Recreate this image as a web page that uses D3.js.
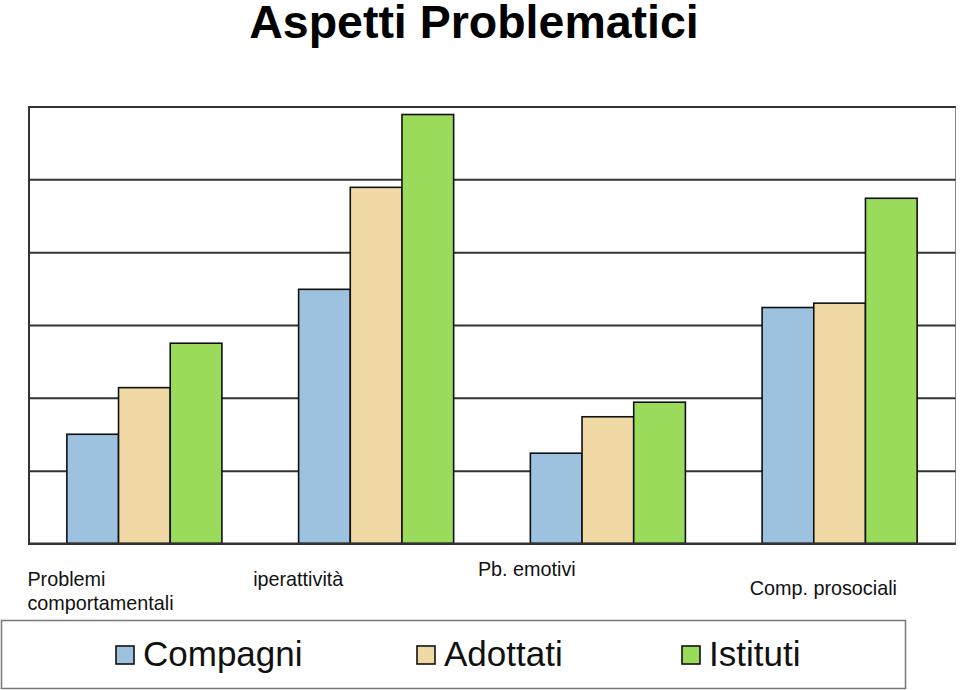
<!DOCTYPE html>
<html>
<head>
<meta charset="utf-8">
<script src="https://cdn.jsdelivr.net/npm/d3@7"></script>
<style>
  body { margin: 0; background: #fff; }
  text { font-family: "Liberation Sans", Arial, sans-serif; }
</style>
</head>
<body>
<div id="chart"></div>
<script>
// Data
const categories = [["Problemi", "comportamentali"], ["iperattività"], ["Pb. emotivi"], ["Comp. prosociali"]];
const seriesNames = ["Compagni", "Adottati", "Istituti"];
const compagni = [1.50, 3.49, 1.24, 3.24];
const adottati = [2.14, 4.89, 1.74, 3.30];
const istituti = [2.75, 5.89, 1.94, 4.74];
const yTicks = [0, 1, 2, 3, 4, 5, 6];

const seriesValues = [compagni, adottati, istituti];
const colors = ["#9cc2e0", "#f1d9a6", "#9adb5b"];

// Label placement (Excel put them staggered)
const labelLayout = [
  { dx: -117, y: 586 },
  { dx: -123, y: 586 },
  { dx: -130, y: 576 },
  { dx: -90, y: 595 }
];

const width = 960, height = 690;
const margin = { top: 106.5, right: 4.5, bottom: 146.5, left: 28.5 };
const innerW = width - margin.left - margin.right;
const innerH = height - margin.top - margin.bottom;

const svg = d3.select("#chart")
  .append("svg")
  .attr("width", width)
  .attr("height", height);

// Title
svg.append("text")
  .attr("x", 474)
  .attr("y", 38)
  .attr("text-anchor", "middle")
  .attr("font-size", 46.5)
  .attr("font-weight", "bold")
  .text("Aspetti Problematici");

const g = svg.append("g")
  .attr("transform", `translate(${margin.left}, ${margin.top})`);

// Scales
const catKeys = categories.map((c, i) => i);
const x0 = d3.scaleBand()
  .domain(catKeys)
  .range([0, innerW])
  .paddingInner(0.331)
  .paddingOuter(0.1655);

const x1 = d3.scaleBand()
  .domain(d3.range(seriesNames.length))
  .range([0, x0.bandwidth()]);

const y = d3.scaleLinear()
  .domain([0, 6])
  .range([innerH, 0]);

// Plot frame
g.append("rect")
  .attr("width", innerW)
  .attr("height", innerH)
  .attr("fill", "#fff")
  .attr("stroke", "#888")
  .attr("stroke-width", 1);

// Gridlines
g.append("g")
  .attr("class", "grid")
  .call(d3.axisLeft(y).tickValues(yTicks).tickSize(-innerW).tickFormat(""))
  .call(s => s.select(".domain").attr("stroke", "#333").attr("stroke-width", 2))
  .call(s => s.selectAll(".tick line").attr("stroke", "#333").attr("stroke-width", 2));

// Bars
const groups = g.selectAll(".group")
  .data(catKeys)
  .enter().append("g")
  .attr("class", "group")
  .attr("transform", d => `translate(${x0(d)}, 0)`);

groups.selectAll("rect")
  .data(ci => seriesValues.map((vals, si) => ({ si, v: vals[ci] })))
  .enter().append("rect")
  .attr("x", d => x1(d.si))
  .attr("y", d => y(d.v))
  .attr("width", x1.bandwidth())
  .attr("height", d => innerH - y(d.v))
  .attr("fill", d => colors[d.si])
  .attr("stroke", "#111")
  .attr("stroke-width", 1.6);

// Bottom axis line
g.append("line")
  .attr("x1", 0).attr("x2", innerW)
  .attr("y1", innerH).attr("y2", innerH)
  .attr("stroke", "#333")
  .attr("stroke-width", 2);

// Category labels
categories.forEach((lines, i) => {
  const cx = margin.left + x0(i) + x0.bandwidth() / 2;
  const t = svg.append("text")
    .attr("x", cx + labelLayout[i].dx)
    .attr("y", labelLayout[i].y)
    .attr("font-size", 19.8)
    .attr("fill", "#111");
  lines.forEach((line, k) => {
    t.append("tspan")
      .attr("x", cx + labelLayout[i].dx)
      .attr("dy", k === 0 ? 0 : 23.5)
      .text(line);
  });
});

// Legend
svg.append("rect")
  .attr("x", 1.5).attr("y", 620.5)
  .attr("width", 904).attr("height", 68)
  .attr("fill", "#fff")
  .attr("stroke", "#777")
  .attr("stroke-width", 1.5);

const legendX = [116, 417, 682];
const legend = svg.selectAll(".legend")
  .data(seriesNames)
  .enter().append("g")
  .attr("class", "legend")
  .attr("transform", (d, i) => `translate(${legendX[i]}, 646)`);

legend.append("rect")
  .attr("width", 18)
  .attr("height", 18)
  .attr("fill", (d, i) => colors[i])
  .attr("stroke", "#111")
  .attr("stroke-width", 1.6);

legend.append("text")
  .attr("x", 27)
  .attr("y", 20)
  .attr("font-size", 35)
  .attr("fill", "#111")
  .text(d => d);
</script>
</body>
</html>
